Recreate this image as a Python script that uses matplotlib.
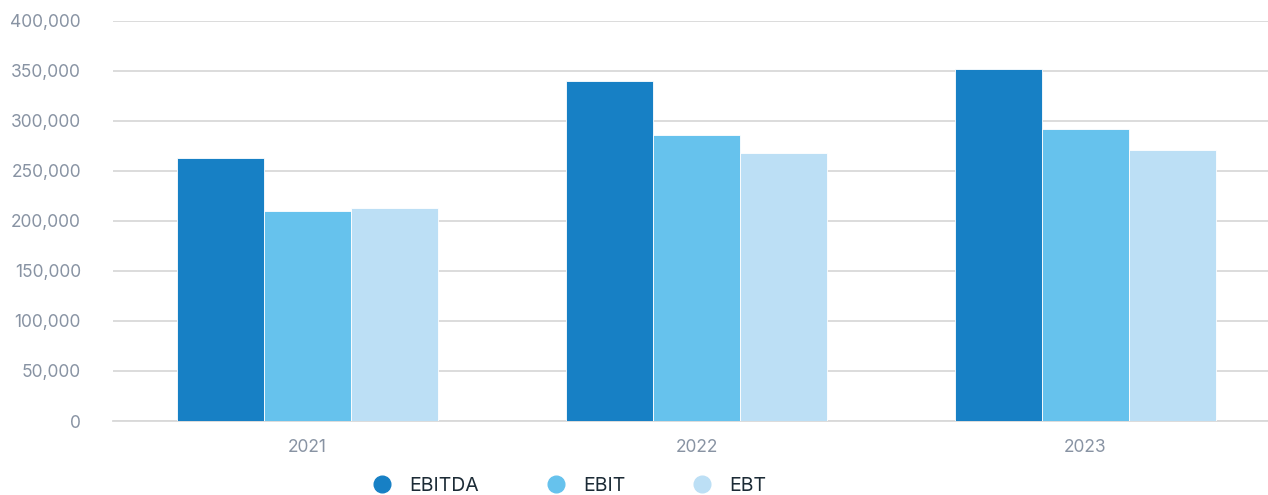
import numpy as np
import matplotlib.pyplot as plt
from matplotlib.ticker import FuncFormatter
from matplotlib.lines import Line2D

# data
years = ["2021", "2022", "2023"]
series = ["EBITDA", "EBIT", "EBT"]
ebitda = [263000, 340000, 352000]
ebit = [210000, 286000, 292000]
ebt = [213000, 268000, 271000]
colors = ["#1780C5", "#66C2ED", "#BCDFF5"]

plt.rcParams['font.family'] = ['Inter', 'DejaVu Sans']

fig = plt.figure(figsize=(12.68, 4.95), dpi=100)
# plot area runs slightly past the right edge, as in the reference
ax = fig.add_axes([113 / 1268, 74 / 495, 1167 / 1268, 400 / 495])

x = np.arange(len(years))
w = 0.224
for i, (vals, c) in enumerate(zip([ebitda, ebit, ebt], colors)):
    ax.bar(x + (i - 1) * w, vals, width=w, color=c, edgecolor="white",
           linewidth=0.6, zorder=3)

ax.set_xlim(-0.5, 2.5)
ax.set_ylim(0, 400000)
ax.set_yticks(np.arange(0, 400001, 50000))
ax.yaxis.set_major_formatter(FuncFormatter(lambda v, p: f"{int(v):,}"))
ax.set_xticks(x)
ax.set_xticklabels(years)

ax.grid(axis="y", color="#d9d9d9", linewidth=1.3, zorder=0)
for s in ["top", "right", "left"]:
    ax.spines[s].set_visible(False)
ax.spines["bottom"].set_color("#d9d9d9")
ax.spines["bottom"].set_linewidth(1.3)
ax.tick_params(axis="both", length=0, labelsize=12.5, labelcolor="#8893a3")
ax.tick_params(axis="y", pad=23)
ax.tick_params(axis="x", pad=13)

handles = [Line2D([0], [0], marker="o", color="none", markerfacecolor=c,
                  markeredgecolor=c, markersize=12) for c in colors]
fig.legend(handles, series, loc="center", bbox_to_anchor=(0.449, 0.018),
           ncol=3, frameon=False, fontsize=14, labelcolor="#1c2b36",
           handlelength=1.0, handletextpad=0.9, columnspacing=3.45,
           borderaxespad=0, borderpad=0)

fig.savefig("out.png", dpi=100)
